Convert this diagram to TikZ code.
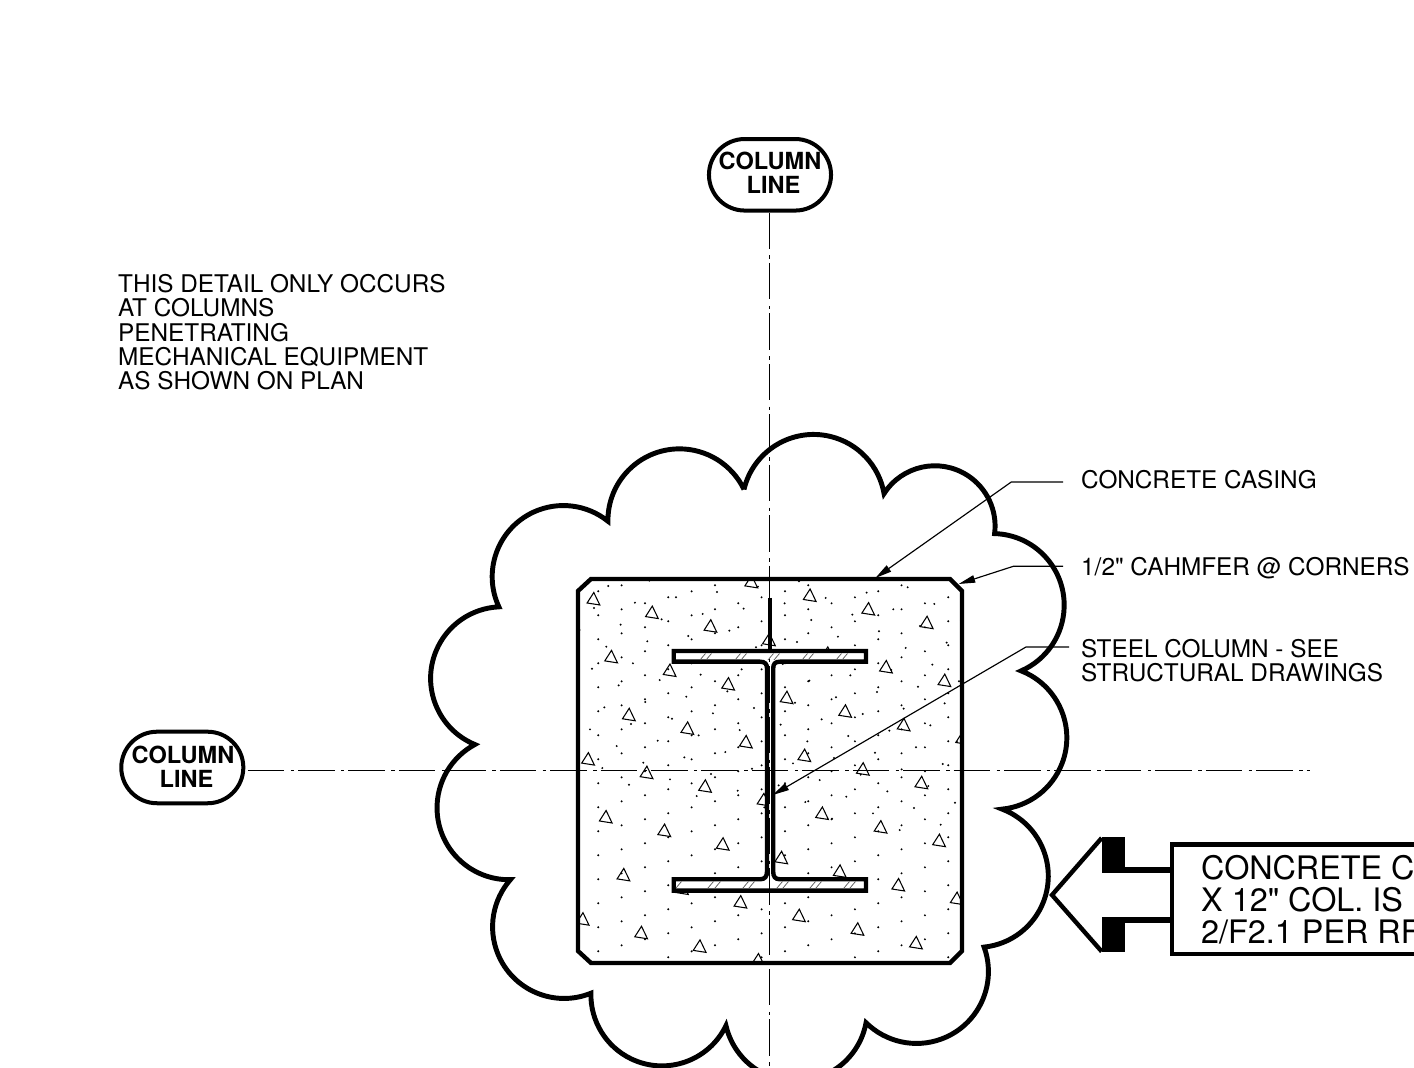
\documentclass[tikz,border=0pt]{standalone}
\usepackage{fontspec}
\setmainfont[Ligatures=TeXOff]{TeX Gyre Heros}
\usetikzlibrary{calc,shapes.misc,arrows.meta}
\tikzset{
	heavyline/.style={line width=1.25pt, line join=miter},
	cloudline/.style={line width=1.4pt, line join=miter},
	leaderline/.style={line width=.33pt, -{Triangle[length=.165cm,width=.075cm]}},
	centerline/.style={line width=.45pt, dash pattern=on 10.38pt off 1.82pt on 1pt off 1.14pt},
	smallnote/.style={inner sep=0, anchor=base west, align=left, font=\fontsize{6.92}{6.92}\selectfont},
	bignote/.style={inner sep=0, anchor=base west, align=left, font=\fontsize{9.2}{9.1}\selectfont},
	gridbubble/.style={rounded rectangle, draw, fill=white, line width=1.14pt, inner sep=0, minimum width=1.22cm, minimum height=.715cm},
	bubbletext/.style={inner sep=0, align=center, font=\fontsize{6.7}{6.83}\selectfont\bfseries},
	aggregate/.style={line width=.3pt},
	flangehatch/.style={line width=.2pt, color=black!65}
}

\begin{document}
\begin{tikzpicture}[x=.01cm, y=-.01cm]
	\useasboundingbox (0,0) rectangle (1414,1068);
	% concrete fill
	\begin{scope}
		\clip (578,591) -- (591,579) -- (950,579) -- (962,591) -- (962,951) -- (950,963) -- (591,963) -- (578,951) -- cycle;
		\foreach \iCol in {-1,...,16}
		{
			\foreach \jRow in {-4,...,18}
			{
				\fill (598.3+\iCol*23.33, 639.3-\iCol*6+\jRow*24) circle[radius=.011cm];
			}
		}
		\foreach \iCol in {-4,...,16}
		{
			\foreach \jRow in {-7,...,6}
			{
				\fill (608.3+\iCol*26.67+\jRow*67.67, 586+\iCol*16.67+\jRow*11.33) circle[radius=.011cm];
			}
		}
		\foreach \iCol in {-2,...,7}
		{
			\foreach \jRow in {-3,...,7}
			{
				\draw[aggregate] (593.8+\iCol*58.5+\jRow*17.7, 598.5+\iCol*13.6+\jRow*57.9) ++(0,-6) -- ++(-6.7,10.5) -- ++(12.7,2) -- cycle;
			}
		}
	\end{scope}
	\draw[heavyline] (578,591) -- (591,579) -- (950,579) -- (962,591) -- (962,951) -- (950,963) -- (591,963) -- (578,951) -- cycle;
	% steel column
	\draw[heavyline, fill=white] (673.7,651) -- (866,651) -- (866,661.7) -- (780,661.7) .. controls (775,661.7) and (773.2,664) .. (773.2,668.5) -- (773.2,871.5) .. controls (773.2,876.5) and (775,879.3) .. (780,879.3) -- (866,879.3) -- (866,890.7) -- (673.7,890.7) -- (673.7,879.3) -- (760,879.3) .. controls (765,879.3) and (767,876.5) .. (767,871.5) -- (767,668.5) .. controls (767,664) and (765,661.7) .. (760,661.7) -- (673.7,661.7) -- cycle;
	\foreach \xHatch in {700,706,735,741,768,774,802,808,836,842}
	{
		\draw[flangehatch] (\xHatch,660) -- ++(5.5,-6.5);
	}
	\foreach \xHatch in {676,708,715,743,749,777,783,810,816,844,850}
	{
		\draw[flangehatch] (\xHatch,888) -- ++(5.5,-6.5);
	}
	\draw[heavyline] (769.8,598) -- (769.8,650);
	% column lines
	\node[gridbubble] (vBubble) at (770,174.8) {};
	\node[gridbubble] (hBubble) at (182.3,767.5) {};
	\node[bubbletext] (vBubbleText) at (770,172.5) {COLUMN\\\hspace*{2pt}LINE};
	\node[bubbletext] (hBubbleText) at (183,766.5) {COLUMN\\\hspace*{2pt}LINE};
	\coordinate (vEnd) at (769.3,1080);
	\coordinate (hEnd) at (1310,770.7);
	\draw[centerline] (vBubble.south -| vEnd) -- (vEnd);
	\draw[centerline, dash phase=13.69pt] (hBubble.east |- hEnd) -- (hEnd);
	% revision cloud
	\draw[cloudline] (744,489.4) \foreach \xA/\yA/\xB/\yB/\sag [
		evaluate={\xA as \chord using veclen(\xB-\xA,\yB-\yA)},
		evaluate={\xA as \halfAng using 2*atan(2*\sag/\chord)},
		evaluate={\xA as \baseAng using atan2(\yA-\yB,\xB-\xA)+90},
		evaluate={\xA as \startAng using \baseAng+\halfAng},
		evaluate={\xA as \endAng using \baseAng-\halfAng},
		evaluate={\xA as \radPt using \chord/(2*sin(\halfAng))*.2845}
	] in {744/489.4/884/493.6/57, 884/493.6/994.5/533.6/47, 994.5/533.6/1021/670.8/56, 1021/670.8/1002/809/55, 1002/809/984/946.9/55, 984/946.9/866/1022.5/56, 866/1022.5/726/1025.4/57, 726/1025.4/591/993/56, 591/993/510.5/879.5/55, 510.5/879.5/475/744.4/55, 475/744.4/499/606.8/56, 499/606.8/608/521.2/55, 608/521.2/744/489.4/56}
	{
		arc[start angle=\startAng, end angle=\endAng, radius=\radPt pt]
	} -- cycle;
	% notes and leaders
	\node[smallnote] (detailNote) at (117.5,390) {THIS DETAIL ONLY OCCURS\\AT COLUMNS\\PENETRATING\\MECHANICAL EQUIPMENT\\AS SHOWN ON PLAN};
	\node[smallnote] (casingLabel) at (1080.5,489) {CONCRETE CASING};
	\node[smallnote] (chamferLabel) at (1080.5,576) {1/2" CAHMFER @ CORNERS};
	\node[smallnote] (steelLabel) at (1080.5,682) {STEEL COLUMN - SEE\\STRUCTURAL DRAWINGS};
	\coordinate (casingKnee) at (1011.3,482);
	\coordinate (chamferKnee) at (1013.4,566.3);
	\coordinate (steelKnee) at (1026,647);
	\coordinate (casingTip) at (875.4,578);
	\coordinate (chamferTip) at (958.7,584);
	\coordinate (steelTip) at (772.7,795);
	\draw[leaderline] (1063,482) -- (casingKnee) -- (casingTip);
	\draw[leaderline] (1063,566.3) -- (chamferKnee) -- (chamferTip);
	\draw[leaderline] (1069,647) -- (steelKnee) -- (steelTip);
	% section marker
	\draw[heavyline] (1101.7,838) -- (1052,895) -- (1101.7,951.5);
	\fill (1101.7,836.7) rectangle (1125,872.7);
	\fill (1101.7,917.3) rectangle (1125,952.3);
	\fill (1125,866.7) rectangle (1172,872.7);
	\fill (1125,917.3) rectangle (1172,923.3);
	\draw[heavyline] (1450,844.7) -- (1172,844.7) -- (1172,954.2) -- (1450,954.2);
	\node[bignote] (markerNote) at (1200.5,944) {CONCRETE C\\X 12" COL. IS\\2/F2.1 PER RF};
\end{tikzpicture}
\end{document}
